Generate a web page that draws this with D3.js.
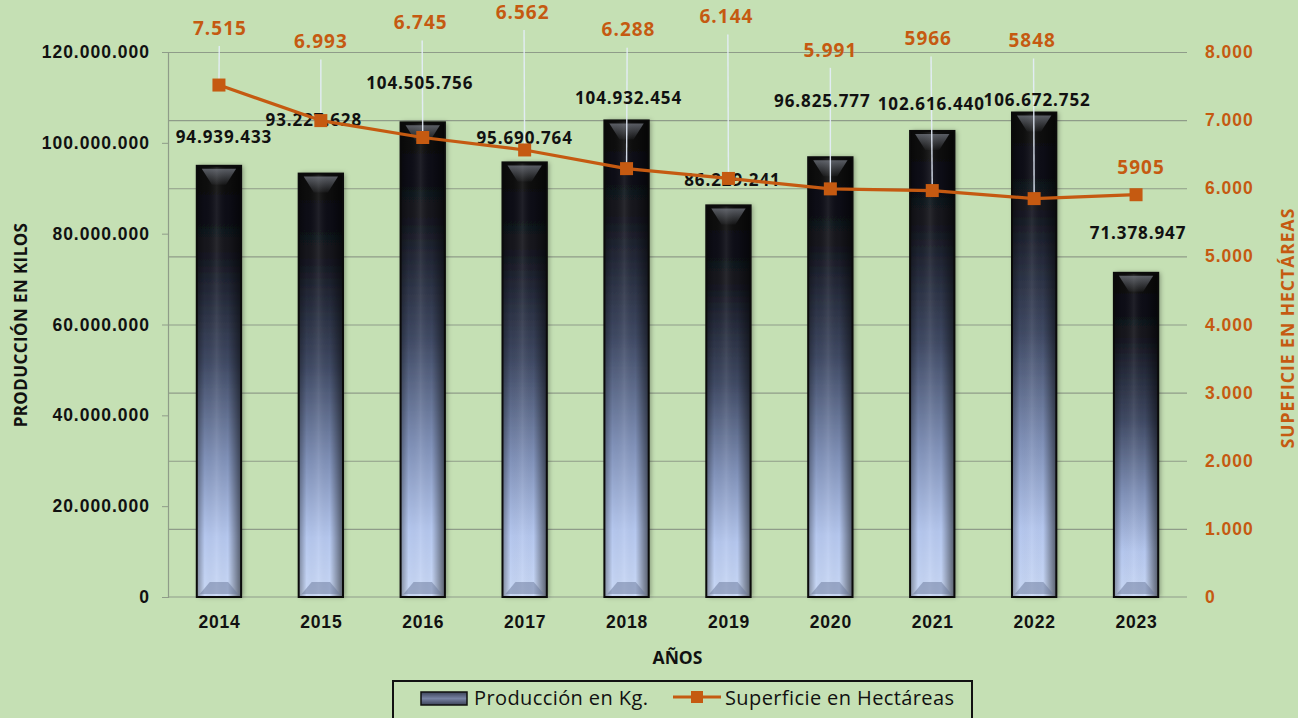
<!DOCTYPE html>
<html>
<head>
<meta charset="utf-8">
<script src="https://cdn.jsdelivr.net/npm/d3@7"></script>
<style>
  html, body { margin: 0; padding: 0; background: #c5e0b4; }
  svg { display: block; font-family: "Open Sans", "Liberation Sans", sans-serif; }
</style>
</head>
<body>
<div id="chart"></div>
<script>
// produccion vs superficie chart
const years = ["2014", "2015", "2016", "2017", "2018", "2019", "2020", "2021", "2022", "2023"];
const production = [94939433, 93227628, 104505756, 95690764, 104932454, 86229241, 96825777, 102616440, 106672752, 71378947];
const surface = [7515, 6993, 6745, 6562, 6288, 6144, 5991, 5966, 5848, 5905];
const surfaceLabels = ["7.515", "6.993", "6.745", "6.562", "6.288", "6.144", "5.991", "5966", "5848", "5905"];
const leftTicks = [0, 20000000, 40000000, 60000000, 80000000, 100000000, 120000000];
const rightTicks = [0, 1000, 2000, 3000, 4000, 5000, 6000, 7000, 8000];

// manual label nudges (px), like the hand-placed labels of the original
const barLabelShift = [[5, -29], [-7, -54], [-3, -39], [0, -24], [2, -22], [4, -25], [-8, -56], [-1, -27], [3, -12], [2, -40]];
const lineLabelShift = [[1, -57], [0, -79], [-2, -115], [-2, -138], [2, -139], [-2, -162], [0, -139], [-4, -152], [-2, -158], [5, -27]];

const W = 1298, H = 718;
const PLOT = { left: 168, right: 1187, top: 52, bottom: 597 };
const ORANGE = "#c55a11";
const GRID = "#8f9c89";

const fmt = d3.formatLocale({ decimal: ",", thousands: ".", grouping: [3], currency: ["", ""] }).format(",");

const svg = d3.select("#chart").append("svg").attr("width", W).attr("height", H);
const defs = svg.append("defs");

const barGrad = defs.append("linearGradient").attr("id", "barGrad").attr("x1", 0).attr("y1", 0).attr("x2", 0).attr("y2", 1);
[[0, "#07070b"], [0.2, "#14161f"], [0.45, "#3e4862"], [0.68, "#8091b8"], [0.86, "#b5c7ee"], [1, "#c9d8f5"]]
  .forEach(([o, c]) => barGrad.append("stop").attr("offset", o).attr("stop-color", c));

const sideGrad = defs.append("linearGradient").attr("id", "sideGrad").attr("x1", 0).attr("y1", 0).attr("x2", 1).attr("y2", 0);
[[0, "#000", 0.35], [0.18, "#000", 0], [0.45, "#fff", 0.08], [0.7, "#000", 0], [1, "#000", 0.55]]
  .forEach(([o, c, a]) => sideGrad.append("stop").attr("offset", o).attr("stop-color", c).attr("stop-opacity", a));

const topGrad = defs.append("linearGradient").attr("id", "topGrad").attr("x1", 0).attr("y1", 0).attr("x2", 0).attr("y2", 1);
[[0, "#9aa0ad", 0.55], [1, "#9aa0ad", 0.05]]
  .forEach(([o, c, a]) => topGrad.append("stop").attr("offset", o).attr("stop-color", c).attr("stop-opacity", a));

const swatchGrad = defs.append("linearGradient").attr("id", "swatchGrad").attr("x1", 0).attr("y1", 0).attr("x2", 0).attr("y2", 1);
[[0, "#3b4258"], [0.5, "#7883a3"], [1, "#3b4258"]]
  .forEach(([o, c]) => swatchGrad.append("stop").attr("offset", o).attr("stop-color", c));

const shadow = defs.append("filter").attr("id", "shadow").attr("x", "-30%").attr("y", "-10%").attr("width", "160%").attr("height", "120%");
shadow.append("feDropShadow").attr("dx", 2).attr("dy", 0).attr("stdDeviation", 2.5).attr("flood-color", "#000").attr("flood-opacity", 0.35);

const x = d3.scalePoint().domain(years).range([PLOT.left, PLOT.right]).padding(0.5);
const barW = x.step() * 0.435;
const yL = d3.scaleLinear().domain([0, 120000000]).range([PLOT.bottom, PLOT.top]);
const yR = d3.scaleLinear().domain([0, 8000]).range([PLOT.bottom, PLOT.top]);

// gridlines follow the secondary axis
svg.append("g")
  .attr("transform", `translate(${PLOT.right},0)`)
  .call(d3.axisLeft(yR).tickValues(rightTicks.slice(1)).tickSize(PLOT.right - PLOT.left).tickFormat(""))
  .call((g) => g.select(".domain").remove())
  .call((g) => g.selectAll("line").attr("stroke", GRID).attr("stroke-width", 1.2));

// left axis
svg.append("g")
  .attr("transform", `translate(${PLOT.left},0)`)
  .call(d3.axisLeft(yL).tickValues(leftTicks).tickSize(6).tickPadding(12).tickFormat(fmt))
  .call((g) => g.select(".domain").attr("stroke", GRID).attr("stroke-width", 1.2))
  .call((g) => g.selectAll("line").attr("stroke", GRID))
  .call((g) => g.selectAll("text").attr("fill", "#111").attr("font-size", 17.5).attr("font-weight", 700).attr("letter-spacing", 1));

// right axis labels
svg.append("g")
  .attr("transform", `translate(${PLOT.right},0)`)
  .call(d3.axisRight(yR).tickValues(rightTicks).tickSize(0).tickPadding(18).tickFormat(fmt))
  .call((g) => g.select(".domain").remove())
  .call((g) => g.selectAll("text").attr("fill", ORANGE).attr("font-size", 17.5).attr("font-weight", 700).attr("letter-spacing", 1));

// bottom axis
svg.append("g")
  .attr("transform", `translate(0,${PLOT.bottom})`)
  .call(d3.axisBottom(x).tickSize(0).tickPadding(19))
  .call((g) => g.select(".domain").attr("stroke", GRID).attr("stroke-width", 1.2).attr("d", `M${PLOT.left},0H${PLOT.right}`))
  .call((g) => g.selectAll("text").attr("fill", "#111").attr("font-size", 17.5).attr("font-weight", 700).attr("letter-spacing", 0.8));

// axis titles
svg.append("text")
  .attr("x", (PLOT.left + PLOT.right) / 2).attr("y", 664)
  .attr("text-anchor", "middle").attr("font-size", 17.5).attr("font-weight", 700).attr("fill", "#111")
  .text("AÑOS");

svg.append("text")
  .attr("transform", "rotate(-90)")
  .attr("x", -325).attr("y", 27)
  .attr("text-anchor", "middle").attr("font-size", 17).attr("font-weight", 700).attr("fill", "#111").attr("letter-spacing", 0.4)
  .text("PRODUCCIÓN EN KILOS");

svg.append("text")
  .attr("transform", "rotate(-90)")
  .attr("x", -328).attr("y", 1294)
  .attr("text-anchor", "middle").attr("font-size", 17.5).attr("font-weight", 700).attr("fill", ORANGE).attr("letter-spacing", 1)
  .text("SUPEFICIE EN HECTÁREAS");

// bars
const rows = years.map((year, i) => ({ year, prod: production[i], area: surface[i], label: surfaceLabels[i], i }));

const bars = svg.append("g").attr("class", "bars")
  .selectAll("g")
  .data(rows)
  .join("g")
  .attr("transform", (d) => `translate(${x(d.year) - barW / 2},${yL(d.prod)})`);

bars.each(function (d) {
  const g = d3.select(this);
  const h = yL(0) - yL(d.prod);
  g.append("rect").attr("width", barW).attr("height", h).attr("fill", "url(#barGrad)").attr("filter", "url(#shadow)");
  g.append("rect").attr("width", barW).attr("height", h).attr("fill", "url(#sideGrad)");
  // top bevel
  g.append("path")
    .attr("d", `M5,3H${barW - 5}L${barW / 2 + 7},19H${barW / 2 - 7}Z`)
    .attr("fill", "url(#topGrad)");
  // bottom bevel
  g.append("path")
    .attr("d", `M3,${h - 3}H${barW - 3}L${barW - 13},${h - 15}H13Z`)
    .attr("fill", "#6a779a").attr("opacity", 0.5);
  g.append("rect").attr("width", barW).attr("height", h).attr("fill", "none").attr("stroke", "#0b0b0b").attr("stroke-width", 2);
});

// leader lines from the area labels
svg.append("g").attr("class", "leaders")
  .selectAll("line")
  .data(rows.filter((d) => lineLabelShift[d.i][1] < -40))
  .join("line")
  .attr("x1", (d) => x(d.year) + lineLabelShift[d.i][0] * 0.3)
  .attr("x2", (d) => x(d.year))
  .attr("y1", (d) => yR(d.area) + lineLabelShift[d.i][1] + 18)
  .attr("y2", (d) => yR(d.area))
  .attr("stroke", "#e6eefc").attr("stroke-width", 1.4).attr("opacity", 0.9);

// bar value labels
svg.append("g").attr("class", "bar-labels")
  .selectAll("text")
  .data(rows)
  .join("text")
  .attr("x", (d) => x(d.year) + barLabelShift[d.i][0])
  .attr("y", (d) => yL(d.prod) + barLabelShift[d.i][1])
  .attr("dy", "0.35em")
  .attr("text-anchor", "middle").attr("font-size", 17).attr("font-weight", 700).attr("fill", "#111").attr("letter-spacing", 0.9)
  .text((d) => fmt(d.prod));

// surface line
svg.append("path")
  .datum(rows)
  .attr("d", d3.line().x((d) => x(d.year)).y((d) => yR(d.area)))
  .attr("fill", "none").attr("stroke", ORANGE).attr("stroke-width", 3.2).attr("stroke-linejoin", "round");

svg.append("g").attr("class", "markers")
  .selectAll("rect")
  .data(rows)
  .join("rect")
  .attr("x", (d) => x(d.year) - 6.5).attr("y", (d) => yR(d.area) - 6.5)
  .attr("width", 13).attr("height", 13)
  .attr("fill", ORANGE);

svg.append("g").attr("class", "line-labels")
  .selectAll("text")
  .data(rows)
  .join("text")
  .attr("x", (d) => x(d.year) + lineLabelShift[d.i][0])
  .attr("y", (d) => yR(d.area) + lineLabelShift[d.i][1])
  .attr("dy", "0.35em")
  .attr("text-anchor", "middle").attr("font-size", 19).attr("font-weight", 700).attr("fill", ORANGE).attr("letter-spacing", 1)
  .text((d) => d.label);

// legend
const legend = svg.append("g").attr("class", "legend");
legend.append("rect").attr("x", 393).attr("y", 681).attr("width", 579).attr("height", 44)
  .attr("fill", "none").attr("stroke", "#111").attr("stroke-width", 2);
legend.append("rect").attr("x", 421).attr("y", 692).attr("width", 46).attr("height", 13)
  .attr("fill", "url(#swatchGrad)").attr("stroke", "#111").attr("stroke-width", 1.5);
legend.append("text").attr("x", 474).attr("y", 705)
  .attr("font-size", 20).attr("letter-spacing", 0.4).attr("fill", "#111").text("Producción en Kg.");
legend.append("line").attr("x1", 673).attr("x2", 721).attr("y1", 697).attr("y2", 697)
  .attr("stroke", ORANGE).attr("stroke-width", 3.2);
legend.append("rect").attr("x", 691).attr("y", 691).attr("width", 12).attr("height", 12).attr("fill", ORANGE);
legend.append("text").attr("x", 725).attr("y", 705)
  .attr("font-size", 20).attr("letter-spacing", 0.4).attr("fill", "#111").text("Superficie en Hectáreas");
</script>
</body>
</html>
